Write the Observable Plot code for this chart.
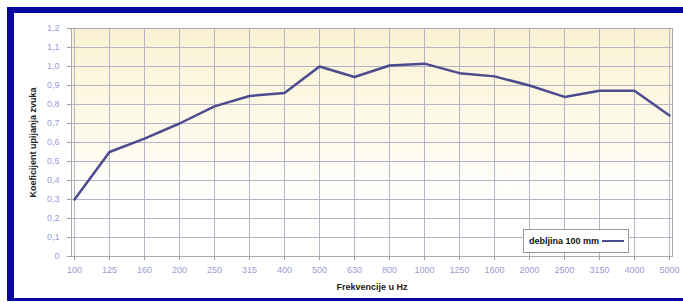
<!DOCTYPE html>
<html>
<head>
<meta charset="utf-8">
<script src="https://cdn.jsdelivr.net/npm/d3@7"></script>
<script src="https://cdn.jsdelivr.net/npm/@observablehq/plot@0.6"></script>
<style>
  html, body { margin: 0; padding: 0; background: #fff; }
  #wrap { position: relative; width: 683px; height: 302px; overflow: hidden; font-family: Arial, "Liberation Sans", sans-serif; }
  #border { position: absolute; left: 7px; top: 7px; width: 700px; height: 285px;
            border-left: 7px solid #0808a0; border-top: 6px solid #0808a0; border-bottom: 3px solid #0808a0; }
  #chart { position: absolute; left: 0; top: 0; }
  #legend { position: absolute; left: 523px; top: 229px; width: 104px; height: 22px; background: #fff;
            border: 1px solid #9a9a9a; font: bold 9px Arial, "Liberation Sans", sans-serif; color: #111;
            display: flex; align-items: center; }
  #legend span { margin-left: 5px; }
  #legend i { display: inline-block; width: 22px; height: 2px; background: #4b4b8f; margin-left: 3px; }
</style>
</head>
<body>
<div id="wrap">
  <div id="border"></div>
  <div id="chart"></div>
  <div id="legend"><span>debljina 100 mm</span><i></i></div>
</div>
<script>
const frequencies = ["100","125","160","200","250","315","400","500","630","800","1000","1250","1600","2000","2500","3150","4000","5000"];
const absorption = [0.30,0.55,0.62,0.70,0.79,0.845,0.86,1.00,0.945,1.005,1.015,0.965,0.948,0.90,0.84,0.872,0.872,0.742];
const yTicks = [0,0.1,0.2,0.3,0.4,0.5,0.6,0.7,0.8,0.9,1.0,1.1,1.2];
const yTickLabels = ["0","0,1","0,2","0,3","0,4","0,5","0,6","0,7","0,8","0,9","1,0","1,1","1,2"];
const seriesName = "debljina 100 mm";
const xTitle = "Frekvencije u Hz";
const yTitle = "Koeficijent upijanja zvuka";

const data = frequencies.map((f, i) => ({f, a: absorption[i]}));
const tickColor = "#9c9cd4";

const plot = Plot.plot({
  width: 683,
  height: 302,
  marginLeft: 71,
  marginRight: 11,
  marginTop: 28,
  marginBottom: 46,
  style: {background: "transparent", fontFamily: "Arial, 'Liberation Sans', sans-serif", fontSize: "9px"},
  x: {type: "point", domain: frequencies, padding: 0},
  y: {domain: [0, 1.2]},
  marks: [
    Plot.frame({fill: "url(#bgGrad)", stroke: null}),
    Plot.gridX(frequencies, {stroke: "#b4b4c6", strokeOpacity: 1}),
    Plot.gridY(yTicks, {stroke: "#b4b4c6", strokeOpacity: 1}),
    Plot.frame({stroke: "#a8a8b4"}),
    Plot.axisX(frequencies, {tickSize: 4, tickPadding: 6, stroke: "#9a9aaa", color: tickColor,
      label: xTitle, labelAnchor: "center", labelOffset: 33, labelArrow: "none"}),
    Plot.axisY(yTicks, {tickSize: 4, tickPadding: 8, stroke: "#9a9aaa", color: tickColor,
      tickFormat: (d) => yTickLabels[yTicks.indexOf(d)],
      label: yTitle, labelAnchor: "center", labelOffset: 42, labelArrow: "none"}),
    Plot.line(data, {x: "f", y: "a", stroke: "#4b4b8f", strokeWidth: 2.5, strokeLinejoin: "round"})
  ]
});

const svgNS = "http://www.w3.org/2000/svg";
const defs = document.createElementNS(svgNS, "defs");
defs.innerHTML = `<linearGradient id="bgGrad" x1="0" y1="0" x2="0" y2="1">
  <stop offset="0%" stop-color="#fbf2d4"/>
  <stop offset="45%" stop-color="#fefaea"/>
  <stop offset="75%" stop-color="#ffffff"/>
  <stop offset="100%" stop-color="#ffffff"/>
</linearGradient>`;
plot.insertBefore(defs, plot.firstChild);
// style axis titles (and drop any direction arrow)
plot.querySelectorAll("g[aria-label='x-axis label'] text, g[aria-label='y-axis label'] text").forEach(t => {
  t.setAttribute("fill", "#222");
  t.setAttribute("font-weight", "bold");
  t.textContent = t.textContent.replace(/\s*[←↑→↓]\s*/g, "");
});
document.getElementById("chart").appendChild(plot);
</script>
</body>
</html>
